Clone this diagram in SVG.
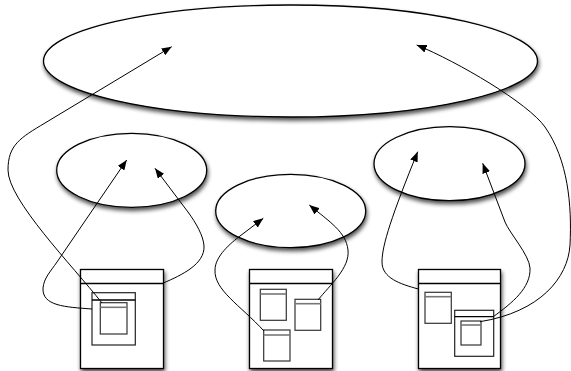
<svg xmlns="http://www.w3.org/2000/svg" width="571" height="371" viewBox="0 0 571 371">
<defs>
<filter id="sh" x="-10%" y="-10%" width="130%" height="140%">
<feGaussianBlur in="SourceAlpha" stdDeviation="2"/>
<feOffset dx="1" dy="3" result="o"/>
<feComponentTransfer><feFuncA type="linear" slope="0.7"/></feComponentTransfer>
<feMerge><feMergeNode/><feMergeNode in="SourceGraphic"/></feMerge>
</filter>
<marker id="ah" viewBox="0 0 10 8" refX="10" refY="4" markerWidth="10" markerHeight="8" markerUnits="userSpaceOnUse" orient="auto">
<path d="M0,0 L10,4 L0,8 z" fill="#000"/>
</marker>
</defs>
<style>
.ell{fill:#fff;stroke:#000;stroke-width:1.3;filter:url(#sh)}
.box{fill:#fff;stroke:#000;stroke-width:1.3;filter:url(#sh)}
.hd{stroke:#000;stroke-width:1.3}
.frm{fill:#fff;stroke:#222;stroke-width:1.2}
.win{fill:#fff;stroke:#333;stroke-width:1.2}
.whd{stroke:#777;stroke-width:1.6}
.con{fill:none;stroke:#000;stroke-width:1;marker-end:url(#ah)}
</style>
<g id="top-ellipse"><ellipse class="ell" cx="290.5" cy="61" rx="247" ry="56"/></g>
<g id="left-ellipse"><ellipse class="ell" cx="131.7" cy="170.3" rx="75" ry="37"/></g>
<g id="middle-ellipse"><ellipse class="ell" cx="290.7" cy="211" rx="75" ry="36.7"/></g>
<g id="right-ellipse"><ellipse class="ell" cx="449.5" cy="163.7" rx="75.5" ry="37"/></g>
<g id="left-box">
<rect class="box" x="80.5" y="269.5" width="83" height="99"/>
<line class="hd" x1="80.5" y1="283.5" x2="163.5" y2="283.5"/>
<rect class="frm" x="92" y="292.7" width="43.3" height="52.3"/>
<line class="hd" x1="92" y1="300" x2="135.3" y2="300"/>
<rect class="win" x="100.3" y="302.7" width="26.7" height="31.3"/>
<line class="whd" x1="100.3" y1="307.3" x2="127" y2="307.3"/>
</g>
<g id="middle-box">
<rect class="box" x="249.5" y="269.5" width="83" height="99"/>
<line class="hd" x1="249.5" y1="283.5" x2="332.5" y2="283.5"/>
<rect class="win" x="260.3" y="289.3" width="26" height="31"/>
<line class="whd" x1="260.3" y1="294" x2="286.3" y2="294"/>
<rect class="win" x="295" y="299.3" width="25.7" height="31"/>
<line class="whd" x1="295" y1="303.7" x2="320.7" y2="303.7"/>
<rect class="win" x="263.7" y="330" width="26.3" height="31"/>
<line class="whd" x1="263.7" y1="335" x2="290" y2="335"/>
</g>
<g id="right-box">
<rect class="box" x="418.5" y="269.5" width="82" height="99"/>
<line class="hd" x1="418.5" y1="283.5" x2="500.5" y2="283.5"/>
<rect class="win" x="425" y="292.3" width="26.3" height="31"/>
<line class="whd" x1="425" y1="296.7" x2="451.3" y2="296.7"/>
<rect class="frm" x="454.7" y="310.3" width="39" height="46"/>
<line class="hd" x1="454.7" y1="316.7" x2="493.7" y2="316.7"/>
<rect class="win" x="461" y="321" width="20" height="24"/>
<line class="whd" x1="461" y1="325" x2="481" y2="325"/>
</g>
<g id="connectors">
<path class="con" d="M102,303 C72,265 8,200 8,170 C8,145 20,138 45,123 L171.7,46.7"/>
<path class="con" d="M92,309 C65,307 42,306 43,288 C44,278 50.2,271.9 57,262 L126.7,160"/>
<path class="con" d="M163.3,283 C182,275 205,264 204,246 C203.5,236 196,223 188,212 L155,168.3"/>
<path class="con" d="M264,331 C240,305 214,290 215,270 C215,256 231,243 240,236 L263.3,218.3"/>
<path class="con" d="M318,300 C330,285 350,268 348,250 C346,232 330,222 309.3,205"/>
<path class="con" d="M418.3,289 C400,284 382,278 382,262 C382,245 392,215 417.7,151.7"/>
<path class="con" d="M493.3,316.7 C512,303 531,288 530,268 C529.3,255 509.5,233 505,222 L482.7,163.3"/>
<path class="con" d="M480,321.7 C540,312 568,278 570,245 C572,205 568,160 545,127 C528,103 458,62 416.7,45"/>
</g>
</svg>
